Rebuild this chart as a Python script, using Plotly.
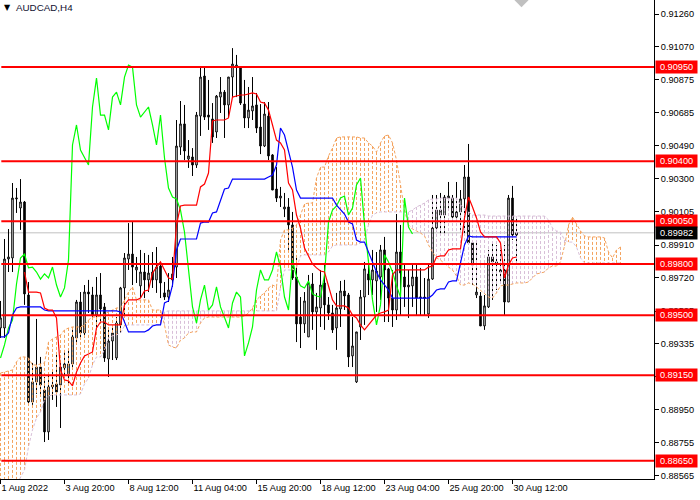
import plotly.graph_objects as go

# AUDCAD H4 candles
opens = [0.89426, 0.89426, 0.89829, 0.89835, 0.90180, 0.90127, 0.90162, 0.89619, 0.88994, 0.89111,
         0.89198, 0.89064, 0.88819, 0.89082, 0.89099, 0.89093, 0.89193, 0.89158, 0.89216, 0.89368,
         0.89578, 0.89397, 0.89636, 0.89619, 0.89502, 0.89619, 0.89549, 0.89245, 0.89350, 0.89251,
         0.89444, 0.89660, 0.89829, 0.89858, 0.89765, 0.89672, 0.89753, 0.89707, 0.89753, 0.89707,
         0.89788, 0.89631, 0.89607, 0.89742, 0.89782, 0.90483, 0.90618, 0.90413, 0.90425, 0.90378,
         0.90664, 0.90898, 0.90670, 0.90647, 0.90571, 0.90775, 0.90804, 0.90729, 0.90892, 0.90950,
         0.90945, 0.90734, 0.90653, 0.90694, 0.90729, 0.90600, 0.90489, 0.90664, 0.90437, 0.90238,
         0.90185, 0.90121, 0.90133, 0.90028, 0.89724, 0.89490, 0.89450, 0.89374, 0.89683, 0.89520,
         0.89543, 0.89689, 0.89561, 0.89514, 0.89426, 0.89537, 0.89642, 0.89619, 0.89263, 0.89111,
         0.89432, 0.89607, 0.89742, 0.89707, 0.89701, 0.89724, 0.89882, 0.89771, 0.89601, 0.89531,
         0.89870, 0.89724, 0.89666, 0.89672, 0.89724, 0.89601, 0.89607, 0.89508, 0.89712, 0.90010,
         0.90086, 0.90086, 0.90185, 0.90185, 0.90074, 0.90104, 0.90180, 0.90308, 0.89923, 0.89619,
         0.89613, 0.89438, 0.89549, 0.89841, 0.89812, 0.89753, 0.89765, 0.89578, 0.90185, 0.89969]
highs = [0.89584, 0.89946, 0.90004, 0.90273, 0.90244, 0.90296, 0.90168, 0.89695, 0.89222, 0.89479,
         0.89257, 0.89140, 0.89163, 0.89169, 0.89269, 0.89222, 0.89286, 0.89309, 0.89432, 0.89590,
         0.89636, 0.89677, 0.89707, 0.89666, 0.89724, 0.89747, 0.89572, 0.89415, 0.89432, 0.89490,
         0.89666, 0.89864, 0.90039, 0.90045, 0.89841, 0.89882, 0.89864, 0.89853, 0.89870, 0.89899,
         0.89812, 0.89695, 0.89747, 0.89841, 0.90641, 0.90752, 0.90729, 0.90524, 0.90477, 0.90688,
         0.90945, 0.90950, 0.90875, 0.90740, 0.90787, 0.90892, 0.90816, 0.90892, 0.91061, 0.91021,
         0.90956, 0.90875, 0.90834, 0.90892, 0.90799, 0.90734, 0.90746, 0.90746, 0.90442, 0.90366,
         0.90250, 0.90215, 0.90185, 0.90104, 0.89835, 0.89607, 0.89636, 0.89736, 0.89747, 0.89631,
         0.89765, 0.89806, 0.89607, 0.89561, 0.89631, 0.89701, 0.89707, 0.89631, 0.89490, 0.89403,
         0.89648, 0.89812, 0.89823, 0.89882, 0.89870, 0.89911, 0.89958, 0.89777, 0.89765, 0.90092,
         0.90028, 0.89794, 0.89765, 0.89794, 0.89794, 0.89777, 0.89718, 0.89794, 0.90203, 0.90203,
         0.90215, 0.90203, 0.90279, 0.90203, 0.90279, 0.90232, 0.90378, 0.90501, 0.89923, 0.89923,
         0.89636, 0.89619, 0.89882, 0.89923, 0.89911, 0.89882, 0.89911, 0.90203, 0.90256, 0.90074]
lows = [0.89368, 0.89368, 0.89753, 0.89753, 0.90098, 0.89999, 0.89561, 0.88977, 0.88977, 0.89041,
        0.89023, 0.88760, 0.88772, 0.89006, 0.88965, 0.88842, 0.89134, 0.89093, 0.89181, 0.89327,
        0.89368, 0.89368, 0.89514, 0.89473, 0.89432, 0.89455, 0.89228, 0.89140, 0.89239, 0.89239,
        0.89397, 0.89485, 0.89765, 0.89677, 0.89689, 0.89601, 0.89601, 0.89636, 0.89660, 0.89631,
        0.89601, 0.89590, 0.89578, 0.89666, 0.89718, 0.90437, 0.90407, 0.90361, 0.90314, 0.90361,
        0.90548, 0.90641, 0.90583, 0.90507, 0.90536, 0.90682, 0.90536, 0.90653, 0.90775, 0.90775,
        0.90729, 0.90594, 0.90594, 0.90641, 0.90565, 0.90442, 0.90483, 0.90407, 0.90232, 0.90162,
        0.90133, 0.90074, 0.89870, 0.89707, 0.89344, 0.89309, 0.89397, 0.89374, 0.89415, 0.89298,
        0.89432, 0.89415, 0.89473, 0.89397, 0.89298, 0.89432, 0.89531, 0.89198, 0.89198, 0.89105,
        0.89356, 0.89444, 0.89619, 0.89619, 0.89520, 0.89590, 0.89461, 0.89461, 0.89432, 0.89473,
        0.89502, 0.89549, 0.89485, 0.89549, 0.89502, 0.89502, 0.89502, 0.89485, 0.89707, 0.89987,
        0.89969, 0.89969, 0.90115, 0.90057, 0.90057, 0.89999, 0.89969, 0.89911, 0.89677, 0.89601,
        0.89438, 0.89415, 0.89543, 0.89590, 0.89648, 0.89689, 0.89496, 0.89578, 0.89940, 0.89806]
closes = [0.89485, 0.89829, 0.89841, 0.90185, 0.90185, 0.90162, 0.89625, 0.88994, 0.89111, 0.89198,
          0.89093, 0.88819, 0.89082, 0.89093, 0.89052, 0.89198, 0.89216, 0.89216, 0.89374, 0.89578,
          0.89397, 0.89636, 0.89625, 0.89502, 0.89619, 0.89537, 0.89251, 0.89350, 0.89397, 0.89455,
          0.89660, 0.89835, 0.89858, 0.89782, 0.89782, 0.89753, 0.89707, 0.89747, 0.89707, 0.89782,
          0.89689, 0.89607, 0.89648, 0.89707, 0.90489, 0.90618, 0.90460, 0.90431, 0.90378, 0.90670,
          0.90892, 0.90658, 0.90658, 0.90542, 0.90781, 0.90804, 0.90729, 0.90892, 0.90968, 0.90962,
          0.90740, 0.90653, 0.90699, 0.90723, 0.90594, 0.90489, 0.90676, 0.90431, 0.90232, 0.90185,
          0.90197, 0.90133, 0.90028, 0.89718, 0.89450, 0.89450, 0.89584, 0.89689, 0.89520, 0.89549,
          0.89677, 0.89561, 0.89514, 0.89415, 0.89543, 0.89642, 0.89613, 0.89257, 0.89321, 0.89403,
          0.89607, 0.89771, 0.89707, 0.89765, 0.89759, 0.89882, 0.89765, 0.89601, 0.89531, 0.89870,
          0.89747, 0.89666, 0.89677, 0.89724, 0.89601, 0.89607, 0.89601, 0.89712, 0.90010, 0.90115,
          0.90115, 0.90191, 0.90197, 0.90074, 0.90104, 0.90180, 0.90308, 0.89923, 0.89794, 0.89636,
          0.89438, 0.89555, 0.89841, 0.89812, 0.89806, 0.89765, 0.89578, 0.90185, 0.89969, 0.89982]

# ichimoku lines
tenkan = [None, None, None, None, None, None, 0.89753, 0.89636, 0.89636, 0.89636,
          0.89631, 0.89543, 0.89531, 0.89531, 0.89485, 0.89181, 0.89123, 0.89117, 0.89088, 0.89169,
          0.89222, 0.89263, 0.89274, 0.89286, 0.89426, 0.89461, 0.89461, 0.89444, 0.89444, 0.89444,
          0.89444, 0.89561, 0.89590, 0.89590, 0.89590, 0.89601, 0.89642, 0.89648, 0.89747, 0.89782,
          0.89812, 0.89765, 0.89718, 0.89712, 0.90028, 0.90139, 0.90144, 0.90144, 0.90144, 0.90144,
          0.90250, 0.90267, 0.90331, 0.90635, 0.90641, 0.90641, 0.90641, 0.90653, 0.90775, 0.90781,
          0.90787, 0.90787, 0.90793, 0.90799, 0.90793, 0.90746, 0.90740, 0.90699, 0.90612, 0.90524,
          0.90507, 0.90466, 0.90273, 0.90232, 0.90086, 0.90010, 0.89893, 0.89847, 0.89800, 0.89777,
          0.89759, 0.89753, 0.89677, 0.89590, 0.89555, 0.89555, 0.89555, 0.89543, 0.89502, 0.89485,
          0.89444, 0.89415, 0.89444, 0.89479, 0.89502, 0.89514, 0.89520, 0.89531, 0.89736, 0.89765,
          0.89765, 0.89765, 0.89765, 0.89765, 0.89765, 0.89765, 0.89765, 0.89782, 0.89788, 0.89841,
          0.89847, 0.89847, 0.89882, 0.89888, 0.89888, 0.89888, 0.90069, 0.90191, 0.90133, 0.90069,
          0.89987, 0.89958, 0.89958, 0.89958, 0.89958, 0.89923, 0.89718, 0.89794, 0.89835, 0.89841]
kijun = [0.89374, 0.89374, 0.89397, 0.89502, 0.89543, 0.89549, 0.89549, 0.89549, 0.89549, 0.89549,
         0.89549, 0.89531, 0.89526, 0.89526, 0.89526, 0.89526, 0.89526, 0.89526, 0.89526, 0.89526,
         0.89526, 0.89526, 0.89526, 0.89526, 0.89526, 0.89526, 0.89526, 0.89526, 0.89526, 0.89526,
         0.89520, 0.89461, 0.89403, 0.89403, 0.89403, 0.89403, 0.89403, 0.89415, 0.89438, 0.89444,
         0.89444, 0.89572, 0.89584, 0.89677, 0.89882, 0.89946, 0.89946, 0.89946, 0.89946, 0.89946,
         0.90039, 0.90045, 0.90045, 0.90098, 0.90104, 0.90174, 0.90238, 0.90244, 0.90296, 0.90296,
         0.90296, 0.90296, 0.90296, 0.90296, 0.90296, 0.90296, 0.90296, 0.90308, 0.90320, 0.90378,
         0.90594, 0.90553, 0.90454, 0.90366, 0.90232, 0.90185, 0.90185, 0.90185, 0.90185, 0.90185,
         0.90185, 0.90185, 0.90185, 0.90185, 0.90144, 0.90121, 0.90092, 0.90045, 0.90034, 0.89940,
         0.89928, 0.89928, 0.89870, 0.89812, 0.89753, 0.89707, 0.89677, 0.89648, 0.89601, 0.89601,
         0.89601, 0.89601, 0.89601, 0.89601, 0.89601, 0.89601, 0.89601, 0.89601, 0.89619, 0.89648,
         0.89654, 0.89654, 0.89695, 0.89701, 0.89701, 0.89812, 0.89911, 0.89964, 0.89958, 0.89958,
         0.89958, 0.89958, 0.89958, 0.89958, 0.89958, 0.89958, 0.89958, 0.89958, 0.89958, 0.89958]
chikou = [0.89251, 0.89327, 0.89426, 0.89473, 0.89683, 0.89835, 0.89858, 0.89777, 0.89782, 0.89753,
          0.89712, 0.89742, 0.89718, 0.89782, 0.89677, 0.89607, 0.89660, 0.89823, 0.90495, 0.90612,
          0.90466, 0.90419, 0.90378, 0.90717, 0.90886, 0.90670, 0.90670, 0.90583, 0.90775, 0.90804,
          0.90729, 0.90892, 0.90962, 0.90950, 0.90729, 0.90658, 0.90688, 0.90717, 0.90612, 0.90495,
          0.90670, 0.90419, 0.90244, 0.90191, 0.90180, 0.90115, 0.89987, 0.89777, 0.89549, 0.89455,
          0.89590, 0.89677, 0.89531, 0.89561, 0.89666, 0.89549, 0.89490, 0.89426, 0.89572, 0.89636,
          0.89607, 0.89263, 0.89339, 0.89432, 0.89648, 0.89765, 0.89707, 0.89707, 0.89765, 0.89870,
          0.89782, 0.89607, 0.89531, 0.89823, 0.89724, 0.89672, 0.89660, 0.89701, 0.89625, 0.89613,
          0.89607, 0.89736, 0.90045, 0.90115, 0.90139, 0.90185, 0.90197, 0.90086, 0.90127, 0.90261,
          0.90302, 0.90028, 0.89812, 0.89590, 0.89444, 0.89561, 0.89853, 0.89812, 0.89753, 0.89672,
          0.89607, 0.90185, 0.90016, 0.89975]
span_a = [0.89163, 0.89169, 0.89175, 0.89181, 0.89228, 0.89257, 0.89257, 0.89251, 0.89210, 0.89210,
          0.89216, 0.89222, 0.89344, 0.89362, 0.89374, 0.89385, 0.89415, 0.89426, 0.89432, 0.89432,
          0.89432, 0.89444, 0.89473, 0.89490, 0.89490, 0.89496, 0.89508, 0.89520, 0.89531, 0.89543,
          0.89543, 0.89590, 0.89636, 0.89666, 0.89590, 0.89590, 0.89590, 0.89590, 0.89531, 0.89531,
          0.89531, 0.89444, 0.89327, 0.89315, 0.89309, 0.89356, 0.89368, 0.89397, 0.89403, 0.89403,
          0.89455, 0.89485, 0.89490, 0.89490, 0.89490, 0.89490, 0.89490, 0.89490, 0.89490, 0.89490,
          0.89490, 0.89496, 0.89514, 0.89543, 0.89590, 0.89613, 0.89631, 0.89660, 0.89677, 0.89666,
          0.89940, 0.89999, 0.89999, 0.90010, 0.90028, 0.90086, 0.90150, 0.90156, 0.90156, 0.90302,
          0.90366, 0.90366, 0.90431, 0.90477, 0.90536, 0.90542, 0.90542, 0.90542, 0.90542, 0.90542,
          0.90536, 0.90536, 0.90507, 0.90489, 0.90454, 0.90507, 0.90548, 0.90553, 0.90507, 0.90407,
          0.90261, 0.90115, 0.90028, 0.90004, 0.89993, 0.89981, 0.89964, 0.89911, 0.89870, 0.89835,
          0.89823, 0.89800, 0.89782, 0.89765, 0.89730, 0.89677, 0.89677, 0.89689, 0.89683, 0.89666,
          0.89648, 0.89625, 0.89607, 0.89601, 0.89631, 0.89672, 0.89677, 0.89677, 0.89683, 0.89689,
          0.89689, 0.89689, 0.89695, 0.89718, 0.89742, 0.89747, 0.89753, 0.89777, 0.89788, 0.89788,
          0.89812, 0.89905, 0.90028, 0.90074, 0.90034, 0.89993, 0.89964, 0.89958, 0.89958, 0.89958,
          0.89958, 0.89952, 0.89870, 0.89835, 0.89882, 0.89899]
span_b = [0.88480, 0.88480, 0.88480, 0.88480, 0.88509, 0.88550, 0.88597, 0.88731, 0.88831, 0.88901,
          0.88936, 0.89006, 0.89029, 0.89035, 0.89035, 0.89035, 0.89035, 0.89035, 0.89035, 0.89035,
          0.89041, 0.89099, 0.89134, 0.89210, 0.89257, 0.89257, 0.89298, 0.89368, 0.89380, 0.89385,
          0.89397, 0.89438, 0.89444, 0.89444, 0.89444, 0.89444, 0.89444, 0.89444, 0.89444, 0.89444,
          0.89444, 0.89520, 0.89526, 0.89526, 0.89526, 0.89526, 0.89526, 0.89526, 0.89526, 0.89526,
          0.89526, 0.89526, 0.89526, 0.89526, 0.89526, 0.89526, 0.89526, 0.89526, 0.89526, 0.89526,
          0.89526, 0.89526, 0.89526, 0.89526, 0.89526, 0.89526, 0.89526, 0.89526, 0.89526, 0.89526,
          0.89660, 0.89765, 0.89765, 0.89765, 0.89777, 0.89847, 0.89853, 0.89853, 0.89853, 0.89853,
          0.89853, 0.89853, 0.89870, 0.89905, 0.89911, 0.89911, 0.89911, 0.89911, 0.89911, 0.89911,
          0.89923, 0.89940, 0.90028, 0.90086, 0.90098, 0.90104, 0.90104, 0.90104, 0.90104, 0.90104,
          0.90104, 0.90104, 0.90104, 0.90115, 0.90133, 0.90144, 0.90156, 0.90174, 0.90180, 0.90180,
          0.90185, 0.90185, 0.90185, 0.90185, 0.90185, 0.90144, 0.90127, 0.90104, 0.90086, 0.90086,
          0.90086, 0.90086, 0.90080, 0.90080, 0.90080, 0.90080, 0.90080, 0.90080, 0.90080, 0.90080,
          0.90080, 0.90080, 0.90080, 0.90080, 0.90080, 0.90080, 0.90080, 0.90057, 0.90010, 0.89993,
          0.89987, 0.89940, 0.89928, 0.89928, 0.89899, 0.89835, 0.89806, 0.89806, 0.89806, 0.89806,
          0.89806, 0.89806, 0.89806, 0.89806, 0.89806, 0.89806]

levels = [0.90950, 0.90400, 0.90050, 0.89800, 0.89500, 0.89150, 0.88650]
level_labels = ["0.90950", "0.90400", "0.90050", "0.89800", "0.89500", "0.89150", "0.88650"]
last_price = 0.89982
last_label = "0.89982"

price_ticks = [0.91260, 0.91070, 0.90875, 0.90685, 0.90490, 0.90300, 0.90105, 0.89910,
               0.89720, 0.89525, 0.89335, 0.89140, 0.88950, 0.88755, 0.88565]
price_labels = ["0.91260", "0.91070", "0.90875", "0.90685", "0.90490", "0.90300", "0.90105", "0.89910",
                "0.89720", "0.89525", "0.89335", "0.89140", "0.88950", "0.88755", "0.88565"]
time_ticks = [0, 16, 32, 48, 64, 80, 96, 112, 128]
time_labels = ["1 Aug 2022", "3 Aug 20:00", "8 Aug 12:00", "11 Aug 04:00", "15 Aug 20:00",
               "18 Aug 12:00", "23 Aug 04:00", "25 Aug 20:00", "30 Aug 12:00"]

ORANGE = "rgb(244,164,96)"
THISTLE = "rgb(216,191,216)"
DASH = "3px,2px"
FONT = "Liberation Sans"

bars = list(range(len(opens)))
fig = go.Figure()

fig.add_trace(go.Candlestick(
    x=bars, open=opens, high=highs, low=lows, close=closes,
    whiskerwidth=0, hoverinfo="skip",
    increasing=dict(line=dict(color="black", width=1), fillcolor="white"),
    decreasing=dict(line=dict(color="black", width=1), fillcolor="black")))

# cloud: one dashed stick per bar between the two spans
up_x, up_y, down_x, down_y = [], [], [], []
for i in range(min(len(span_a), len(span_b))):
    if span_a[i] >= span_b[i]:
        up_x += [i, i, None]
        up_y += [span_a[i], span_b[i], None]
    else:
        down_x += [i, i, None]
        down_y += [span_b[i], span_a[i], None]

fig.add_trace(go.Scatter(x=down_x, y=down_y, mode="lines", hoverinfo="skip",
                         line=dict(color=THISTLE, width=1, dash=DASH)))
fig.add_trace(go.Scatter(x=up_x, y=up_y, mode="lines", hoverinfo="skip",
                         line=dict(color=ORANGE, width=1, dash=DASH)))
fig.add_trace(go.Scatter(x=list(range(len(span_b))), y=span_b, mode="lines", hoverinfo="skip",
                         line=dict(color=THISTLE, width=1, dash=DASH)))
fig.add_trace(go.Scatter(x=list(range(len(span_a))), y=span_a, mode="lines", hoverinfo="skip",
                         line=dict(color=ORANGE, width=1, dash=DASH)))

for values, color in [(chikou, "#00FF00"), (kijun, "#0000FF"), (tenkan, "#FF0000")]:
    fig.add_trace(go.Scatter(x=list(range(len(values))), y=values, mode="lines", hoverinfo="skip",
                             line=dict(color=color, width=1.2)))

# little grey shift marker at the top edge
fig.add_trace(go.Scatter(x=[130.25], y=[0.91342], mode="markers", hoverinfo="skip",
                         marker=dict(symbol="diamond", size=11, color="#C0C0C0")))

shapes = [dict(type="line", xref="paper", x0=0, x1=1, yref="y", y0=last_price, y1=last_price,
               layer="below", line=dict(color="#C0C0C0", width=1))]
annotations = []
for level, label in zip(levels, level_labels):
    shapes.append(dict(type="line", xref="paper", x0=0.002, x1=1, yref="y", y0=level, y1=level,
                       line=dict(color="#FF0000", width=2)))
    annotations.append(dict(xref="paper", x=1, xanchor="left", xshift=1, yref="y", y=level,
                            text=label, showarrow=False, bgcolor="#FF0000", width=41, height=12,
                            borderpad=0, font=dict(family=FONT, size=9.2, color="white")))
annotations.append(dict(xref="paper", x=1, xanchor="left", xshift=1, yref="y", y=last_price,
                        text=last_label, showarrow=False, bgcolor="black", width=41, height=12,
                        borderpad=0, font=dict(family=FONT, size=9.2, color="white")))

annotations.append(dict(xref="paper", yref="paper", x=0, y=1, xanchor="left", yanchor="middle",
                        xshift=2, yshift=-7, text="▼", showarrow=False,
                        font=dict(family="DejaVu Sans", size=8, color="black")))
annotations.append(dict(xref="paper", yref="paper", x=0, y=1, xanchor="left", yanchor="middle",
                        xshift=14, yshift=-7, text="AUDCAD,H4", showarrow=False,
                        font=dict(family=FONT, size=9.8, color="#101030")))

fig.update_layout(
    width=700, height=500,
    margin=dict(l=0, r=46, t=0, b=21, autoexpand=False),
    paper_bgcolor="white", plot_bgcolor="white",
    showlegend=False, boxgap=0.45,
    shapes=shapes, annotations=annotations)
fig.update_xaxes(
    range=[-0.125, 163.375], rangeslider=dict(visible=False),
    tickmode="array", tickvals=time_ticks, ticktext=time_labels,
    ticks="outside", ticklen=4, tickcolor="black", tickwidth=1,
    ticklabelposition="outside right",
    showline=True, linecolor="black", linewidth=1, showgrid=False, zeroline=False,
    tickfont=dict(family=FONT, size=9.2, color="black"))
fig.update_yaxes(
    range=[0.88544, 0.91342], side="right",
    tickmode="array", tickvals=price_ticks, ticktext=price_labels,
    ticks="outside", ticklen=4, tickcolor="black", tickwidth=1,
    showline=True, linecolor="black", linewidth=1, showgrid=False, zeroline=False,
    tickfont=dict(family=FONT, size=9.2, color="black"))

# the page body has a default margin that would push the chart off the window
fig.write_html("out.html", config={"displayModeBar": False},
               post_script="document.body.style.margin = '0';")
